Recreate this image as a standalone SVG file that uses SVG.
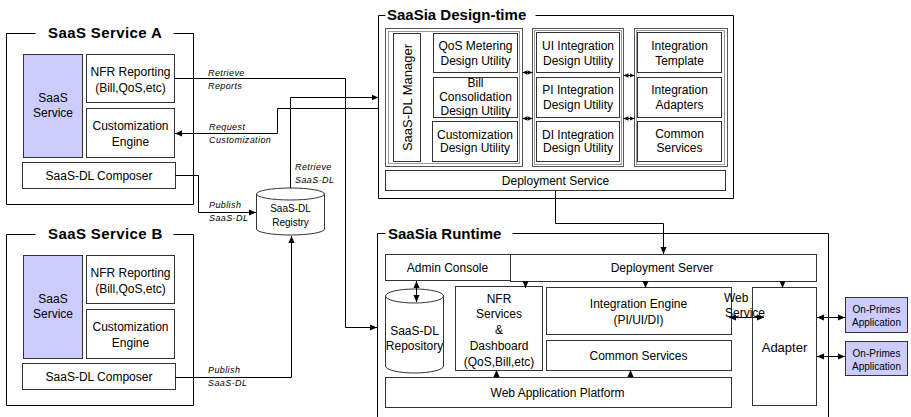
<svg xmlns="http://www.w3.org/2000/svg" width="911" height="417" viewBox="0 0 911 417">
  <defs>
    <marker id="ah" viewBox="0 0 8 8" refX="8" refY="4" markerWidth="7" markerHeight="7" markerUnits="userSpaceOnUse" orient="auto-start-reverse">
      <path d="M0,0.5 L8,4 L0,7.5 Z" fill="#000"/>
    </marker>
    <marker id="sm" viewBox="0 0 8 8" refX="8" refY="4" markerWidth="5" markerHeight="6" markerUnits="userSpaceOnUse" orient="auto-start-reverse">
      <path d="M0,0.5 L8,4 L0,7.5 Z" fill="#000"/>
    </marker>
  </defs>
  <style>
    text { font-family: "Liberation Sans", Arial, sans-serif; fill: #000; }
    .t { font-size: 12px; text-anchor: middle; }
    .t13 { font-size: 13px; text-anchor: middle; }
    .t10 { font-size: 10px; text-anchor: middle; }
    .title { font-size: 15px; font-weight: bold; }
    .lbl { font-size: 9px; font-style: italic; letter-spacing: 0.4px; }
    .box { fill: #fff; stroke: #333; stroke-width: 1; }
    .blue { fill: #ccccff; stroke: #333; stroke-width: 1; }
    .frame { fill: none; stroke: #000; stroke-width: 1; }
    .grp { fill: #fff; stroke: #555; stroke-width: 1; }
    .grpi { fill: none; stroke: #999; stroke-width: 1; }
    .wire { fill: none; stroke: #000; stroke-width: 1; }
    .arr { marker-end: url(#ah); }
    .dbl { marker-start: url(#ah); marker-end: url(#ah); }
    .dsm { marker-start: url(#sm); marker-end: url(#sm); }
  </style>
  <rect x="0" y="0" width="911" height="417" fill="#fff"/>

  <!-- SaaS Service A -->
  <g id="saas-service-a">
    <path class="frame" d="M35.5,33.5 H6.5 V204.5 H193.5 V33.5 H173.5"/>
    <text class="title" x="48" y="38" letter-spacing="0.4">SaaS Service A</text>
    <g id="a-service">
      <rect class="blue" x="23.5" y="54.5" width="59" height="103"/>
      <text class="t" x="53" y="102">SaaS</text>
      <text class="t" x="53" y="117">Service</text>
    </g>
    <g id="a-nfr">
      <rect class="box" x="86.5" y="54.5" width="88" height="48"/>
      <text class="t" x="130.5" y="76">NFR Reporting</text>
      <text class="t" x="130.5" y="92">(Bill,QoS,etc)</text>
    </g>
    <g id="a-custom">
      <rect class="box" x="86.5" y="108.5" width="88" height="49"/>
      <text class="t" x="130.5" y="130">Customization</text>
      <text class="t" x="130.5" y="146">Engine</text>
    </g>
    <g id="a-composer">
      <rect class="box" x="22.5" y="162.5" width="153" height="26"/>
      <text class="t" x="99" y="180">SaaS-DL Composer</text>
    </g>
  </g>

  <!-- SaaS Service B -->
  <g id="saas-service-b">
    <path class="frame" d="M35.5,234.5 H6.5 V405.5 H193.5 V234.5 H173.5"/>
    <text class="title" x="48" y="239" letter-spacing="0.4">SaaS Service B</text>
    <g id="b-service">
      <rect class="blue" x="23.5" y="255.5" width="59" height="103"/>
      <text class="t" x="53" y="303">SaaS</text>
      <text class="t" x="53" y="318">Service</text>
    </g>
    <g id="b-nfr">
      <rect class="box" x="86.5" y="255.5" width="88" height="48"/>
      <text class="t" x="130.5" y="277">NFR Reporting</text>
      <text class="t" x="130.5" y="293">(Bill,QoS,etc)</text>
    </g>
    <g id="b-custom">
      <rect class="box" x="86.5" y="309.5" width="88" height="49"/>
      <text class="t" x="130.5" y="331">Customization</text>
      <text class="t" x="130.5" y="347">Engine</text>
    </g>
    <g id="b-composer">
      <rect class="box" x="22.5" y="363.5" width="153" height="26"/>
      <text class="t" x="99" y="381">SaaS-DL Composer</text>
    </g>
  </g>

  <!-- SaaS-DL Registry -->
  <g id="registry">
    <path class="box" d="M256.5,194 V229 A34,6 0 0 0 324.5,229 V194"/>
    <ellipse class="box" cx="290.5" cy="194" rx="34" ry="6"/>
    <text class="t10" x="290.5" y="211.5">SaaS-DL</text>
    <text class="t10" x="290.5" y="225.5">Registry</text>
  </g>

  <!-- SaaSia Design-time -->
  <g id="design-time">
    <path class="frame" d="M385.5,15.5 H378.5 V198.5 H733.5 V15.5 H535.5"/>
    <text class="title" x="387" y="20">SaaSia Design-time</text>

    <g id="dt-group-1">
      <rect class="grp" x="385.5" y="28.5" width="137" height="138"/>
      <rect class="grpi" x="388.5" y="31.5" width="131" height="132"/>
    </g>
    <g id="dt-group-2">
      <rect class="grp" x="532.5" y="28.5" width="91" height="138"/>
      <rect class="grpi" x="534.5" y="30.5" width="87" height="134"/>
    </g>
    <g id="dt-group-3">
      <rect class="grp" x="634.5" y="28.5" width="93" height="138"/>
      <rect class="grpi" x="636.5" y="30.5" width="88" height="134"/>
    </g>

    <g id="saasdl-manager">
      <rect class="box" x="393.5" y="33.5" width="27" height="128"/>
      <text class="t13" transform="translate(411.5,97.5) rotate(-90)">SaaS-DL Manager</text>
    </g>
    <g id="qos-du">
      <rect class="box" x="433.5" y="33.5" width="84" height="39"/>
      <text class="t" x="475.5" y="49.5">QoS Metering</text>
      <text class="t" x="475.5" y="64.5">Design Utility</text>
    </g>
    <g id="bill-du">
      <rect class="box" x="433.5" y="77.5" width="84" height="40"/>
      <text class="t" x="475.5" y="87">Bill</text>
      <text class="t" x="475.5" y="101">Consolidation</text>
      <text class="t" x="475.5" y="115">Design Utility</text>
    </g>
    <g id="custom-du">
      <rect class="box" x="432.5" y="121.5" width="85" height="40"/>
      <text class="t" x="475" y="138.5">Customization</text>
      <text class="t" x="475" y="152">Design Utility</text>
    </g>
    <g id="ui-du">
      <rect class="box" x="536.5" y="32.5" width="83" height="40"/>
      <text class="t" x="578" y="49.5">UI Integration</text>
      <text class="t" x="578" y="64.5">Design Utility</text>
    </g>
    <g id="pi-du">
      <rect class="box" x="536.5" y="77.5" width="83" height="40"/>
      <text class="t" x="578" y="93.5">PI Integration</text>
      <text class="t" x="578" y="108.5">Design Utility</text>
    </g>
    <g id="di-du">
      <rect class="box" x="536.5" y="121.5" width="83" height="40"/>
      <text class="t" x="578" y="138.5">DI Integration</text>
      <text class="t" x="578" y="152">Design Utility</text>
    </g>
    <g id="int-template">
      <rect class="box" x="637.5" y="32.5" width="84" height="40"/>
      <text class="t" x="679.5" y="49.5">Integration</text>
      <text class="t" x="679.5" y="64.5">Template</text>
    </g>
    <g id="int-adapters">
      <rect class="box" x="637.5" y="77.5" width="84" height="40"/>
      <text class="t" x="679.5" y="93.5">Integration</text>
      <text class="t" x="679.5" y="108.5">Adapters</text>
    </g>
    <g id="dt-common">
      <rect class="box" x="637.5" y="121.5" width="84" height="40"/>
      <text class="t" x="679.5" y="137.5">Common</text>
      <text class="t" x="679.5" y="152">Services</text>
    </g>
    <g id="deploy-service">
      <rect class="box" x="385.5" y="170.5" width="340" height="20"/>
      <text class="t" x="555.5" y="184.5">Deployment Service</text>
    </g>
  </g>

  <!-- SaaSia Runtime -->
  <g id="runtime">
    <path class="frame" d="M385.5,233.5 H377.5 V420 M828.5,420 V233.5 H512.5"/>
    <text class="title" x="388" y="239">SaaSia Runtime</text>

    <g id="admin-console">
      <rect class="box" x="385.5" y="254.5" width="125" height="26"/>
      <text class="t" x="447.5" y="272">Admin Console</text>
    </g>
    <g id="deploy-server">
      <rect class="box" x="510.5" y="254.5" width="306" height="27"/>
      <text class="t" x="662" y="272">Deployment Server</text>
    </g>
    <g id="repository">
      <path class="box" d="M385.5,296 V366 A29,7 0 0 0 443.5,366 V296"/>
      <ellipse class="box" cx="414.5" cy="296" rx="29" ry="7"/>
      <text class="t" x="414.5" y="335">SaaS-DL</text>
      <text class="t" x="414.5" y="350">Repository</text>
    </g>
    <g id="nfr-services">
      <rect class="box" x="455.5" y="286.5" width="87" height="84"/>
      <text class="t" x="499" y="303">NFR</text>
      <text class="t" x="499" y="318">Services</text>
      <text class="t" x="499" y="334">&amp;</text>
      <text class="t" x="499" y="350">Dashboard</text>
      <text class="t" x="499" y="366">(QoS,Bill,etc)</text>
    </g>
    <g id="int-engine">
      <rect class="box" x="546.5" y="287.5" width="185" height="47"/>
      <text class="t" x="638.5" y="307.5">Integration Engine</text>
      <text class="t" x="638.5" y="323.5">(PI/UI/DI)</text>
    </g>
    <g id="rt-common">
      <rect class="box" x="546.5" y="340.5" width="185" height="30"/>
      <text class="t" x="638.5" y="360">Common Services</text>
    </g>
    <g id="web-platform">
      <rect class="box" x="385.5" y="377.5" width="346" height="30"/>
      <text class="t" x="557.5" y="396.5">Web Application Platform</text>
    </g>
    <g id="adapter">
      <rect class="box" x="752.5" y="287.5" width="64" height="118"/>
      <text class="t13" x="784.5" y="351.5">Adapter</text>
    </g>
  </g>

  <!-- On-premises applications -->
  <g id="onprem-1">
    <rect class="blue" x="845.5" y="297.5" width="62" height="35"/>
    <text class="t10" x="876.5" y="313">On-Primes</text>
    <text class="t10" x="876.5" y="326">Application</text>
  </g>
  <g id="onprem-2">
    <rect class="blue" x="845.5" y="341.5" width="62" height="34"/>
    <text class="t10" x="876.5" y="356.5">On-Primes</text>
    <text class="t10" x="876.5" y="369.5">Application</text>
  </g>

  <!-- Connectors -->
  <g id="connectors">
    <path class="wire arr" d="M174.5,78.5 H345.5 V327.5 H377"/>
    <path class="wire arr" d="M290.5,188 V97.5 H378.5"/>
    <path class="wire arr" d="M378.5,108.5 H277.5 V133.5 H175"/>
    <path class="wire arr" d="M175.5,175.5 H198.5 V212.5 H256"/>
    <path class="wire arr" d="M175.5,377.5 H291.5 V236"/>
    <path class="wire arr" d="M555.5,190.5 V223.5 H663.5 V254"/>

    <path class="wire dsm" d="M522.5,72.5 H532.5"/>
    <path class="wire dsm" d="M522.5,118.5 H532.5"/>
    <path class="wire dsm" d="M623.5,75.5 H634.5"/>
    <path class="wire dsm" d="M623.5,118.5 H634.5"/>

    <path class="wire dbl" d="M416.5,281 V302"/>
    <path class="wire arr" d="M525.5,281 V288"/>
    <path class="wire arr" d="M645.5,281.5 V288"/>
    <path class="wire arr" d="M782.5,281.5 V288"/>
    <path class="wire arr" d="M496.5,377.5 V370"/>
    <path class="wire arr" d="M630.5,377.5 V370"/>
    <path class="wire dbl" d="M729,317.5 H764"/>
    <path class="wire dbl" d="M817,317.5 H845"/>
    <path class="wire dbl" d="M817,356.5 H845"/>

    <text class="lbl" x="208" y="76">Retrieve</text>
    <text class="lbl" x="208" y="89">Reports</text>
    <text class="lbl" x="209" y="130">Request</text>
    <text class="lbl" x="209" y="143">Customization</text>
    <text class="lbl" x="295" y="170">Retrieve</text>
    <text class="lbl" x="295" y="183">SaaS-DL</text>
    <text class="lbl" x="209" y="208">Publish</text>
    <text class="lbl" x="209" y="221">SaaS-DL</text>
    <text class="lbl" x="208" y="373">Publish</text>
    <text class="lbl" x="208" y="386">SaaS-DL</text>
    <text x="724" y="302" style="font-size:12px">Web</text>
    <text x="725" y="317" style="font-size:12px">Service</text>
  </g>
</svg>
